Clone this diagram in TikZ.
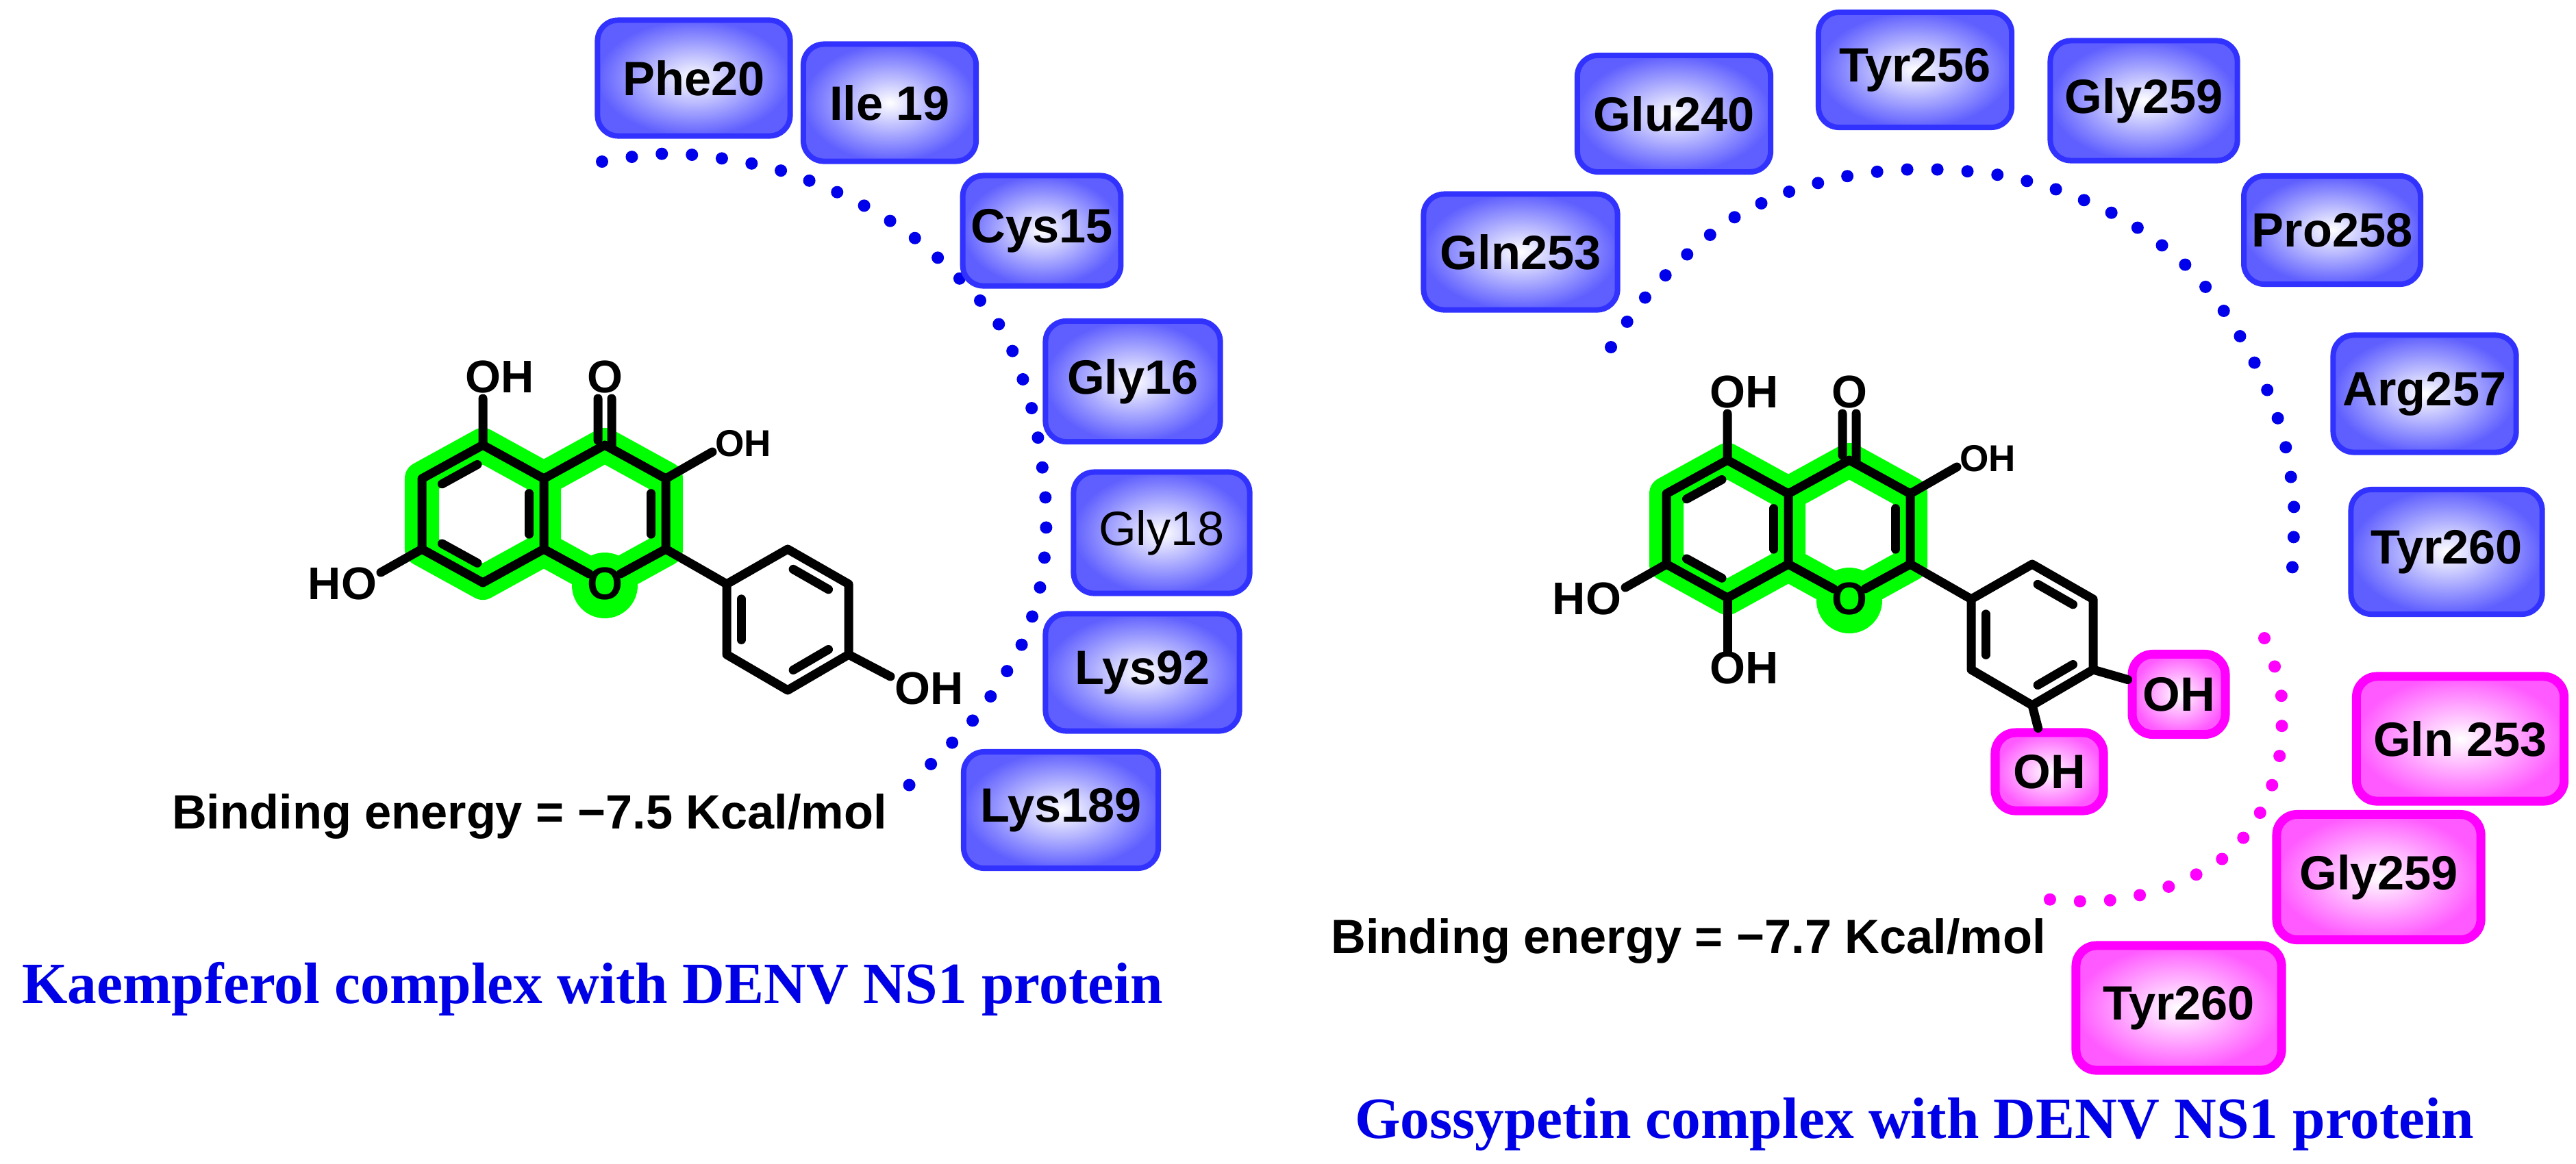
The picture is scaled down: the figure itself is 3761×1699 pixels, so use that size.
\documentclass[tikz,border=0pt]{standalone}
\usepackage{fontspec}
\setmainfont{Liberation Sans}
\newfontfamily\titlefont{Liberation Serif}
\usetikzlibrary{calc}
\definecolor{dotblue}{RGB}{0,0,235}
\definecolor{boxedge}{RGB}{50,50,255}
\definecolor{boxfill}{RGB}{95,95,255}
\definecolor{mag}{RGB}{255,0,255}
\definecolor{magfill}{RGB}{255,90,255}
\definecolor{hl}{RGB}{0,255,0}
\definecolor{ttl}{RGB}{0,0,230}
\tikzset{
  res/.style={draw=boxedge, line width=0.08cm, rounded corners=0.3cm, inner color=white, outer color=boxfill,
     font=\fontsize{20pt}{24pt}\selectfont\bfseries, text=black},
  resm/.style={draw=mag, line width=0.13cm, rounded corners=0.3cm, inner color=white, outer color=magfill,
     font=\fontsize{20pt}{24pt}\selectfont\bfseries, text=black},
  atom/.style={font=\fontsize{19pt}{22pt}\selectfont\bfseries, inner sep=0pt},
  atoms/.style={font=\fontsize{15.5pt}{18pt}\selectfont\bfseries, inner sep=0pt},
  bond/.style={line width=0.13cm, line cap=round, line join=round},
  glow/.style={hl, line width=0.5cm, line join=round, line cap=round},
  dots/.style={line width=0.18cm, line cap=round, dash pattern=on 0pt off 0.44cm},
  energy/.style={font=\fontsize{20pt}{24pt}\selectfont\bfseries},
  title/.style={font=\fontsize{24.3pt}{28pt}\selectfont\titlefont\bfseries, text=ttl},
}
\newcommand\ringdb[3]{%
  \path ($(#1)!0.76!(#2)$) coordinate (tmpa) ($(#1)!0.76!(#3)$) coordinate (tmpb);
  \draw[bond] ($(tmpa)!0.12!(tmpb)$) -- ($(tmpb)!0.12!(tmpa)$);}
\newcommand\flavone[1]{%
  \coordinate (#1a1) at (705,650); \coordinate (#1a2) at (794,699); \coordinate (#1a3) at (794,802);
  \coordinate (#1a4) at (705,851); \coordinate (#1a5) at (616,802); \coordinate (#1a6) at (616,699);
  \coordinate (#1ac) at (705,750);
  \coordinate (#1c1) at (883,650); \coordinate (#1c2) at (972,699); \coordinate (#1c3) at (972,802);
  \coordinate (#1c4) at (883,851); \coordinate (#1cc) at (883,750);
  \coordinate (#1b1) at (1061,853); \coordinate (#1b2) at (1150,802); \coordinate (#1b3) at (1239,853);
  \coordinate (#1b4) at (1239,956); \coordinate (#1b5) at (1150,1008); \coordinate (#1b6) at (1061,956);
  \coordinate (#1bc) at (1150,905);
  \draw[glow] (#1a1)--(#1a2)--(#1c1)--(#1c2)--(#1c3)--(#1c4)--(#1a3)--(#1a4)--(#1a5)--(#1a6)--cycle (#1a2)--(#1a3);
  \fill[hl] (883,855) circle (48);
  \draw[bond] (#1a1)--(#1a2)--(#1a3)--(#1a4)--(#1a5)--(#1a6)--cycle;
  \draw[bond] (#1a2)--(#1c1)--(#1c2)--(#1c3)--(#1b1);
  \draw[bond] (#1a3)--(860,838) (#1c3)--(906,838);
  \draw[bond] (#1b1)--(#1b2)--(#1b3)--(#1b4)--(#1b5)--(#1b6)--cycle;
  \ringdb{#1ac}{#1a6}{#1a1}\ringdb{#1ac}{#1a4}{#1a5}\ringdb{#1ac}{#1a2}{#1a3}
  \ringdb{#1cc}{#1c2}{#1c3}
  \ringdb{#1bc}{#1b2}{#1b3}\ringdb{#1bc}{#1b6}{#1b1}\ringdb{#1bc}{#1b4}{#1b5}
  \draw[bond] (#1a1)--(705,582) (873,643)--(873,582) (893,655)--(893,582) (#1c2)--(1040,660) (#1a5)--(556,836);
  \node[atom] (#1oh5) at (730,550) {OH};
  \node[atom] (#1o4) at (883,550) {O};
  \node[atoms] (#1oh3) at (1085,648) {OH};
  \node[atom] (#1ho7) at (500,852) {HO};
  \node[atom] (#1o1) at (883,852) {O};
}
\begin{document}
\begin{tikzpicture}[x=0.01cm,y=-0.01cm]
\useasboundingbox (0,0) rectangle (3761,1699);
% dotted arcs
\draw[dots, dotblue] plot[smooth] coordinates {(879,236) (957,225) (1030,228) (1133,247) (1236,287) (1327,341) (1406,412) (1467,488) (1509,607) (1527,737) (1521,845) (1491,943) (1430,1040) (1370,1105) (1303,1170)};
\draw[dots, dotblue] plot[smooth] coordinates {(2352,507) (2394,444) (2455,379) (2528,320) (2612,280) (2709,255) (2806,247) (2915,255) (3012,280) (3109,325) (3194,390) (3255,466) (3303,553) (3334,639) (3349,737) (3346,845)};
\draw[dots, mag] plot[smooth] coordinates {(3306,932) (3330,1008) (3328,1105) (3303,1181) (3255,1246) (3182,1289) (3097,1313) (3012,1316) (2974,1309)};
% left molecule
\flavone{L}
\draw[bond] (Lb4)--(1300,988);
\node[atom] (Loh4) at (1357,1005) {OH};
% right molecule
\begin{scope}[shift={(1817,22)}]
\flavone{R}
\draw[bond] (Ra4)--(705,930);
\node[atom] (Roh8) at (730,953) {OH};
\end{scope}
\node[resm, minimum width=1.36cm, minimum height=1.17cm, inner sep=0pt] (ohb1) at (3181,1014) {OH};
\node[resm, minimum width=1.58cm, minimum height=1.14cm, inner sep=0pt] (ohb2) at (2992,1127) {OH};
\draw[bond] (Rb4)--(ohb1);
\draw[bond] (Rb5)--(ohb2);
% left residues
\node[res, minimum width=2.81cm, minimum height=1.69cm] (phe20) at (1013,114) {Phe20};
\node[res, minimum width=2.52cm, minimum height=1.71cm] (ile19) at (1299,150) {Ile 19};
\node[res, minimum width=2.30cm, minimum height=1.61cm] (cys15) at (1521,337) {Cys15};
\node[res, minimum width=2.55cm, minimum height=1.76cm] (gly16) at (1654,557) {Gly16};
\node[res, minimum width=2.57cm, minimum height=1.77cm, font=\fontsize{20pt}{24pt}\selectfont\mdseries] (gly18) at (1696,778) {Gly18};
\node[res, minimum width=2.83cm, minimum height=1.71cm] (lys92) at (1668,982) {Lys92};
\node[res, minimum width=2.84cm, minimum height=1.70cm] (lys189) at (1549,1183) {Lys189};
% right residues
\node[res, minimum width=2.82cm, minimum height=1.70cm] (glu240) at (2444,166) {Glu240};
\node[res, minimum width=2.82cm, minimum height=1.68cm] (tyr256) at (2796,102) {Tyr256};
\node[res, minimum width=2.73cm, minimum height=1.75cm] (gly259) at (3130,147) {Gly259};
\node[res, minimum width=2.83cm, minimum height=1.69cm] (gln253) at (2220,368) {Gln253};
\node[res, minimum width=2.57cm, minimum height=1.58cm] (pro258) at (3405,336) {Pro258};
\node[res, minimum width=2.67cm, minimum height=1.71cm] (arg257) at (3540,575) {Arg257};
\node[res, minimum width=2.79cm, minimum height=1.82cm] (tyr260) at (3572,806) {Tyr260};
\node[resm, minimum width=3.03cm, minimum height=1.82cm] (gln253m) at (3592,1079) {Gln 253};
\node[resm, minimum width=2.98cm, minimum height=1.83cm] (gly259m) at (3473,1281) {Gly259};
\node[resm, minimum width=3.00cm, minimum height=1.82cm] (tyr260m) at (3181,1472) {Tyr260};
% texts
\node[energy] (e1) at (773,1192) {Binding energy = −7.5 Kcal/mol};
\node[energy] (e2) at (2465,1374) {Binding energy = −7.7 Kcal/mol};
\node[title] (t1) at (865,1444) {Kaempferol complex with DENV NS1 protein};
\node[title] (t2) at (2795,1642) {Gossypetin complex with DENV NS1 protein};
\end{tikzpicture}
\end{document}
